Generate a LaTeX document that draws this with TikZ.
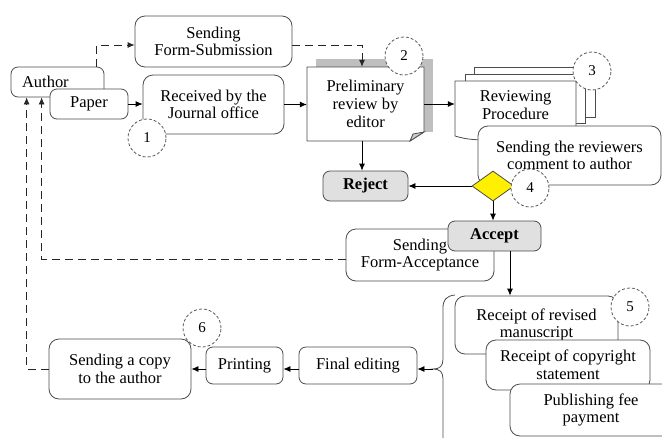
\documentclass[tikz,border=0pt]{standalone}
\usepackage{fontspec}
\setmainfont{Liberation Serif}
\usetikzlibrary{arrows.meta,shapes.geometric}
\definecolor{dyellow}{RGB}{255,240,0}
\begin{document}
\begin{tikzpicture}[x=1pt,y=-1pt,
  every node/.style={font=\fontsize{16.5}{17.7}\selectfont, text=black},
  box/.style={draw=black!70, line width=0.8pt, fill=white, rounded corners=7pt, align=center, inner sep=2pt},
  gbox/.style={box, fill=black!12, font=\fontsize{16.5}{17.7}\selectfont\bfseries},
  num/.style={circle, draw=black!65, dash pattern=on 3pt off 2pt, line width=0.8pt, fill=white, minimum size=38pt, inner sep=0pt, font=\fontsize{15}{17}\selectfont},
  arr/.style={-{Latex[length=7pt,width=6pt]}, line width=0.8pt},
  dsh/.style={arr, dash pattern=on 8pt off 5pt, draw=black!85},
  page/.style={draw=black!70, line width=0.8pt, fill=white},
]
\useasboundingbox (0,0) rectangle (662,437);

% top-left group
\node[box, rounded corners=10pt, minimum width=157pt, minimum height=51pt] (formsub) at (213.5,41.5) {Sending\\Form-Submission};
\node[box, minimum height=30pt, text width=71pt, inner xsep=11pt, align=left] (author) at (57.5,82) {Author};
\node[box, minimum width=78pt, minimum height=30pt] (paper) at (89,104) {Paper};
\node[box, rounded corners=10pt, minimum width=141pt, minimum height=59pt] (received) at (213.5,104.5) {Received by the\\Journal office};
\node[num] (c1) at (147,138) {1};

% preliminary review (folded page with shadow)
\fill[black!25] (316,59) rectangle (433,132);
\filldraw[page] (307,67) -- (424,67) -- (424,132) -- (410,141) -- (307,141) -- cycle;
\filldraw[page, fill=black!20] (410,141) -- (413,134) -- (424,132) -- cycle;
\node[align=center, minimum width=117pt, minimum height=74pt, inner sep=0pt] (prelim) at (365.5,104) {Preliminary\\review by\\editor};
\node[num] (c2) at (404,56) {2};

% reviewing procedure (multi-document)
\filldraw[page] (474,67) rectangle (595,117);
\filldraw[page] (465,74) rectangle (585,123);
\filldraw[page] (455,81) -- (576,81) -- (576,130) .. controls (540,120) and (500,150) .. (455,136) -- cycle;
\node[align=center, minimum width=121pt, minimum height=55pt, inner sep=0pt] (review) at (515.5,105) {Reviewing\\Procedure};
\node[num] (c3) at (592,71) {3};

\node[box, rounded corners=10pt, minimum width=183pt, minimum height=59pt] (comment) at (569.5,155.5) {Sending the reviewers\\comment to author};
\node[gbox, minimum width=85pt, minimum height=30pt] (reject) at (365.5,186) {Reject};
\node[diamond, draw=black!70, line width=0.8pt, fill=dyellow, minimum width=42pt, minimum height=30pt, inner sep=0pt] (dec) at (493,186) {};
\node[num] (c4) at (530,188) {4};

\node[box, rounded corners=10pt, minimum width=148pt, minimum height=52pt] (formacc) at (420,255) {Sending\\Form-Acceptance};
\node[gbox, minimum width=93pt, minimum height=30pt] (accept) at (494.5,236) {Accept};

% final requirements
\node[box, rounded corners=10pt, minimum width=163pt, minimum height=58pt] (rev1) at (536.5,325) {Receipt of revised\\manuscript};
\node[num] (c5) at (630,307) {5};
\node[box, rounded corners=10pt, minimum width=164pt, minimum height=50pt] (rev2) at (568,365) {Receipt of copyright\\statement};
\node[box, rounded corners=10pt, minimum width=162pt, minimum height=52pt] (rev3) at (591,410) {Publishing fee\\payment};
\coordinate (tip) at (433,369);
\draw[black!70, line width=0.8pt] (455,295) .. controls (446,296) and (443,300) .. (443,308) -- (443,359)
  .. controls (443,366) and (440,369) .. (tip) .. controls (440,369) and (443,372) .. (443,379) -- (443,440);

% bottom row
\node[box, minimum width=118pt, minimum height=37pt] (final) at (358,365.5) {Final editing};
\node[box, minimum width=77pt, minimum height=37pt] (printing) at (244.5,365.5) {Printing};
\node[box, rounded corners=10pt, minimum width=142pt, minimum height=60pt] (copy) at (120,369) {Sending a copy\\to the author};
\node[num] (c6) at (202,328) {6};

% connectors
\draw[arr] (paper.east) -- (paper.east -| received.west);
\draw[arr] (received.east) -- (received.east -| prelim.west);
\draw[dsh] ([xshift=-8pt]author.north east) |- ([yshift=-3.5pt]formsub.west);
\draw[dsh] ([yshift=-3.5pt]formsub.east) -| ([xshift=-3.5pt]prelim.north);
\draw[arr] (prelim.east) -- (prelim.east -| review.west);
\draw[arr] ([xshift=-3.5pt]prelim.south) -- ([xshift=-3.5pt]prelim.south |- reject.north);
\draw[arr] (dec.west) -- (dec.west -| reject.east);
\draw[arr] (dec.south) -- (dec.south |- accept.north);
\draw[arr] ([xshift=15.5pt]accept.south) -- ([xshift=15.5pt]accept.south |- rev1.north);
\draw[dsh] ([yshift=-4pt]formacc.west) -| ([xshift=31pt]author.south west);
\draw[dsh] (copy.west) -| ([xshift=16pt]author.south west);
\draw[arr] (tip) -- (tip -| final.east);
\draw[arr] (final.west |- tip) -- (printing.east |- tip);
\draw[arr] (printing.west |- tip) -- (copy.east |- tip);
\end{tikzpicture}
\end{document}
